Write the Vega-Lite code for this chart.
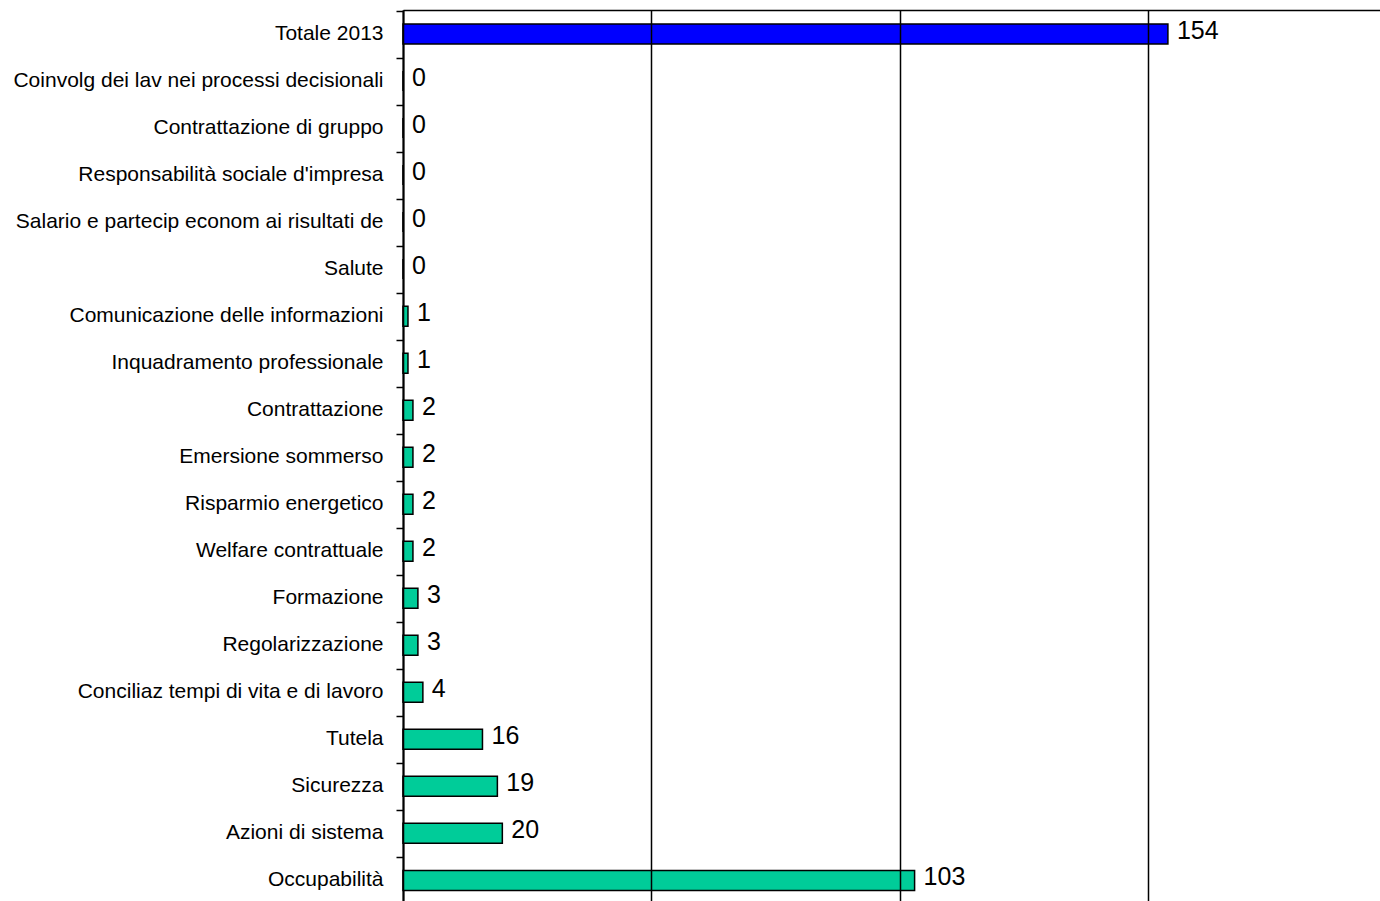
{
  "$schema": "https://vega.github.io/schema/vega-lite/v6.json",
  "autosize": {"type": "none"},
  "padding": {"left": 403, "top": 10, "right": 0, "bottom": 0},
  "width": 977,
  "height": 891,
  "background": "white",
  "config": {"view": {"stroke": null}},
  "data": {"values": [
    {"cat": "Totale 2013", "value": 154, "group": "total"},
    {"cat": "Coinvolg dei lav nei processi decisionali", "value": 0, "group": "item"},
    {"cat": "Contrattazione di gruppo", "value": 0, "group": "item"},
    {"cat": "Responsabilità sociale d'impresa", "value": 0, "group": "item"},
    {"cat": "Salario e partecip econom ai risultati de", "value": 0, "group": "item"},
    {"cat": "Salute", "value": 0, "group": "item"},
    {"cat": "Comunicazione delle informazioni", "value": 1, "group": "item"},
    {"cat": "Inquadramento professionale", "value": 1, "group": "item"},
    {"cat": "Contrattazione", "value": 2, "group": "item"},
    {"cat": "Emersione sommerso", "value": 2, "group": "item"},
    {"cat": "Risparmio energetico", "value": 2, "group": "item"},
    {"cat": "Welfare contrattuale", "value": 2, "group": "item"},
    {"cat": "Formazione", "value": 3, "group": "item"},
    {"cat": "Regolarizzazione", "value": 3, "group": "item"},
    {"cat": "Conciliaz tempi di vita e di lavoro", "value": 4, "group": "item"},
    {"cat": "Tutela", "value": 16, "group": "item"},
    {"cat": "Sicurezza", "value": 19, "group": "item"},
    {"cat": "Azioni di sistema", "value": 20, "group": "item"},
    {"cat": "Occupabilità", "value": 103, "group": "item"}
  ]},
  "encoding": {
    "y": {
      "field": "cat", "type": "nominal", "sort": null, "title": null,
      "scale": {"paddingInner": 0.5747, "paddingOuter": 0.262, "align": 0.569},
      "axis": {
        "domainColor": "black", "domainWidth": 2,
        "tickColor": "black", "tickWidth": 1.5, "tickSize": 7,
        "bandPosition": 0.5, "tickOffset": -23.5, "labelOffset": 23,
        "labelFont": "Liberation Sans", "labelFontSize": 21, "labelColor": "black",
        "labelPadding": 13, "labelLimit": 0, "grid": false
      }
    },
    "x": {
      "field": "value", "type": "quantitative", "title": null,
      "scale": {"domain": [0, 196.7], "nice": false, "zero": true},
      "axis": {
        "orient": "top", "values": [0, 50, 100, 150], "labels": false, "ticks": false,
        "domain": true, "domainColor": "black", "domainWidth": 1.5,
        "grid": true, "gridColor": "black", "gridWidth": 1.5, "gridOpacity": 1,
        "zindex": 1
      }
    }
  },
  "layer": [
    {
      "mark": {"type": "bar", "stroke": "black", "strokeWidth": 1.5},
      "encoding": {
        "color": {
          "field": "group", "type": "nominal", "legend": null,
          "scale": {"domain": ["total", "item"], "range": ["#0000FF", "#00CC99"]}
        }
      }
    },
    {
      "mark": {"type": "text", "align": "left", "baseline": "middle", "dx": 9, "dy": -3,
               "font": "Liberation Sans", "fontSize": 25, "color": "black"},
      "encoding": {"text": {"field": "value", "type": "quantitative"}}
    }
  ]
}
